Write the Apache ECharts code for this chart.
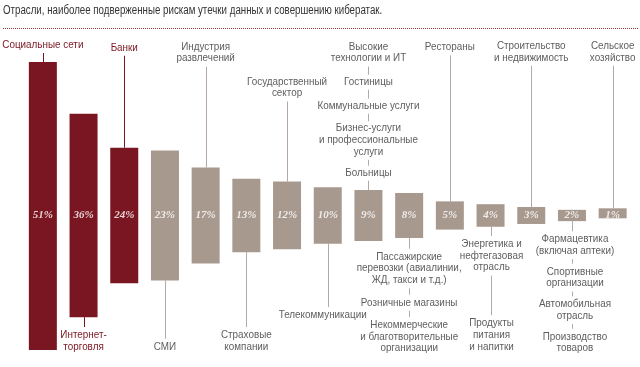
<!DOCTYPE html>
<html><head><meta charset="utf-8">
<script src="https://cdn.jsdelivr.net/npm/echarts@6/dist/echarts.min.js"></script>
<style>html,body{margin:0;padding:0;background:#fff}#c{width:640px;height:367px}</style>
</head><body><div id="c"></div>
<script>
const title = 'Отрасли, наиболее подверженные рискам утечки данных и совершению кибератак.';
const categories = ['Социальные сети','Интернет-торговля','Банки','СМИ','Индустрия развлечений','Страховые компании','Государственный сектор','Телекоммуникации','Высокие технологии и ИТ','Пассажирские перевозки','Рестораны','Энергетика и нефтегазовая отрасль','Строительство и недвижимость','Фармацевтика','Сельское хозяйство'];
const values = [51,36,24,23,17,13,12,10,9,8,5,4,3,2,1];
const highlighted = [true,true,true,false,false,false,false,false,false,false,false,false,false,false,false];
const topLabels = [
  ['Социальные сети'], [], ['Банки'], [], ['Индустрия\nразвлечений'], [], ['Государственный\nсектор'], [],
  ['Высокие\nтехнологии и ИТ','Гостиницы','Коммунальные услуги','Бизнес-услуги\nи профессиональные\nуслуги','Больницы'],
  [], ['Рестораны'], [], ['Строительство\nи недвижимость'], [], ['Сельское\nхозяйство']
];
const bottomLabels = [
  [], ['Интернет-\nторговля'], [], ['СМИ'], [], ['Страховые\nкомпании'], [], ['Телекоммуникации'], [],
  ['Пассажирские\nперевозки (авиалинии,\nЖД, такси и т.д.)','Розничные магазины','Некоммерческие\nи благотворительные\nорганизации'],
  [], ['Энергетика и\nнефтегазовая\nотрасль','Продукты\nпитания\nи напитки'], [],
  ['Фармацевтика\n(включая аптеки)','Спортивные\nорганизации','Автомобильная\nотрасль','Производство\nтоваров'], []
];

// layout (pixel positions of the first line of each label, separate from data)
const topY = [[45],[],[47.7],[],[46.7],[],[81.7],[],[46.7,81.7,105.7,128.3,172.7],[],[47.3],[],[46],[],[46]];
const bottomY = [[],[335],[],[346.7],[],[335],[],[315],[],[256.7,302.7,325],[],[244,323.3],[],[239.3,271.7,304.3,336.7],[]];
const textDx = [0,0,0,0,0,0,0,-5,0,0,0,1,0,3,0];

const RED = '#7a1621', GREY = '#a8998f';
const RED_TXT = '#7a1621', GREY_TXT = '#5e5e5e', GREY_LINE = '#b3aaa4';
const LH = 11.8;
const midValue = 23.82;
const base = values.map(v => Math.max(0, midValue - v / 2));

const chart = echarts.init(document.getElementById('c'), null, {renderer: 'canvas'});
chart.setOption({
  animation: false,
  grid: {left: 22.5, right: 7, top: 62, height: 288},
  xAxis: {type: 'category', data: categories, show: false},
  yAxis: {type: 'value', min: 0, max: 51, show: false},
  series: [
    {type: 'bar', stack: 's', data: base, itemStyle: {color: 'rgba(0,0,0,0)'}, barWidth: 28, silent: true},
    {type: 'bar', stack: 's', barWidth: 28, barMinHeight: 10,
     data: values.map((v, i) => ({value: v, itemStyle: {color: highlighted[i] ? RED : GREY}}))},
    {type: 'scatter', symbolSize: 0, z: 5,
     data: values.map((v, i) => [i, midValue]),
     label: {show: true, position: 'inside', formatter: p => values[p.dataIndex] + '%',
       color: '#fff', fontFamily: 'Liberation Serif', fontStyle: 'italic', fontWeight: 'bold', fontSize: 11}}
  ]
});

const g = [];
g.push({type: 'text', x: 3, y: 5, scaleX: 0.81, style: {text: title, font: '12px "Liberation Sans"', fill: '#333', verticalAlign: 'top'}});
g.push({type: 'line', shape: {x1: 3, y1: 28.5, x2: 638, y2: 28.5}, style: {stroke: '#9c3a45', lineWidth: 1, lineDash: [1, 1]}});

function addText(x, y0, txt, color) {
  g.push({type: 'text', x: x, y: y0 - LH / 2, scaleX: 0.94,
    style: {text: txt, font: '10.5px "Liberation Sans"', fill: color, align: 'center', verticalAlign: 'top', lineHeight: LH}});
}
function addLine(x, y1, y2, color) {
  if (y2 - y1 < 1) return;
  const xx = Math.round(x) + 0.5;
  g.push({type: 'line', shape: {x1: xx, y1: y1, x2: xx, y2: y2}, style: {stroke: color, lineWidth: 1}});
}

values.forEach((v, i) => {
  const x = chart.convertToPixel({xAxisIndex: 0}, i);
  const bottomPx = chart.convertToPixel({yAxisIndex: 0}, base[i]);
  const topRaw = chart.convertToPixel({yAxisIndex: 0}, base[i] + v);
  const topPx = bottomPx - Math.max(bottomPx - topRaw, 10);
  const tc = highlighted[i] ? RED_TXT : GREY_TXT;
  const lc = highlighted[i] ? RED : GREY_LINE;
  let prevEnd = null;
  topLabels[i].forEach((t, k) => {
    const y0 = topY[i][k];
    const n = t.split('\n').length;
    addText(x + textDx[i], y0, t, tc);
    if (prevEnd !== null) addLine(x, prevEnd, y0 - 7, lc);
    prevEnd = y0 + (n - 1) * LH + 8;
  });
  if (prevEnd !== null) addLine(x, prevEnd, topPx, lc);
  let prevB = bottomPx;
  bottomLabels[i].forEach((t, k) => {
    const y0 = bottomY[i][k];
    const n = t.split('\n').length;
    addText(x + textDx[i], y0, t, tc);
    addLine(x, prevB, y0 - 8, lc);
    prevB = y0 + (n - 1) * LH + 8;
  });
});
chart.setOption({graphic: g});
</script></body></html>
